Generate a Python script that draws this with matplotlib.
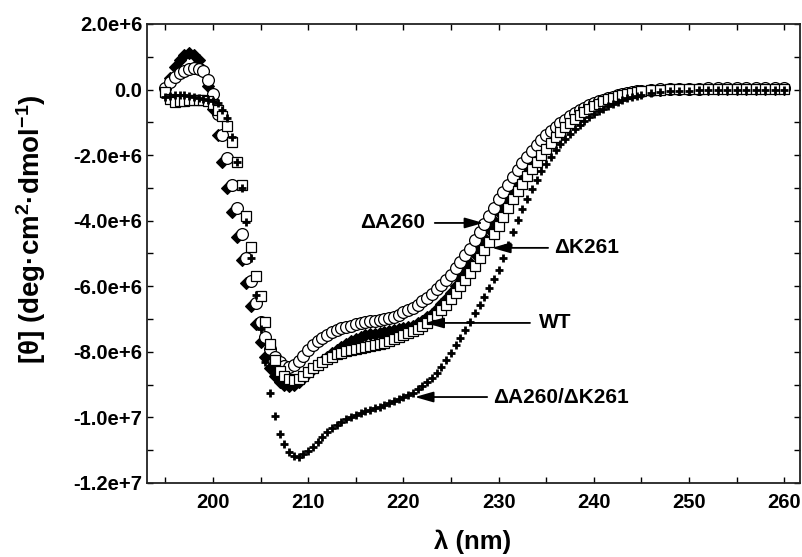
# CD spectra of WT and deletion mutants
import matplotlib
matplotlib.use("Agg")
import matplotlib.pyplot as plt
from matplotlib.ticker import MultipleLocator, FuncFormatter

plt.rcParams['font.family'] = ['Liberation Sans', 'DejaVu Sans']
plt.rcParams['font.weight'] = 'bold'
plt.rcParams['mathtext.fontset'] = 'custom'
plt.rcParams['mathtext.rm'] = 'Liberation Sans:bold'
plt.rcParams['mathtext.bf'] = 'Liberation Sans:bold'
plt.rcParams['mathtext.default'] = 'bf'

# wavelength (nm)
wavelength = [195, 195.5, 196, 196.5, 197, 197.5, 198, 198.5, 199, 199.5,
              200, 200.5, 201, 201.5, 202, 202.5, 203, 203.5, 204, 204.5,
              205, 205.5, 206, 206.5, 207, 207.5, 208, 208.5, 209, 209.5,
              210, 210.5, 211, 211.5, 212, 212.5, 213, 213.5, 214, 214.5,
              215, 215.5, 216, 216.5, 217, 217.5, 218, 218.5, 219, 219.5,
              220, 220.5, 221, 221.5, 222, 222.5, 223, 223.5, 224, 224.5,
              225, 225.5, 226, 226.5, 227, 227.5, 228, 228.5, 229, 229.5,
              230, 230.5, 231, 231.5, 232, 232.5, 233, 233.5, 234, 234.5,
              235, 235.5, 236, 236.5, 237, 237.5, 238, 238.5, 239, 239.5,
              240, 240.5, 241, 241.5, 242, 242.5, 243, 243.5, 244, 244.5,
              245, 246, 247, 248, 249, 250, 251, 252, 253, 254,
              255, 256, 257, 258, 259, 260]

# mean residue ellipticity, in units of 1e6 deg cm2 dmol-1
wt = [0.05, 0.35, 0.7, 0.9, 1.05, 1.1, 1.05, 0.9, 0.6, 0.1,
      -0.6, -1.4, -2.2, -3.0, -3.75, -4.5, -5.2, -5.9, -6.6, -7.15,
      -7.7, -8.15, -8.5, -8.75, -8.92, -9.0, -9.03, -9.0, -8.92, -8.8,
      -8.65, -8.52, -8.4, -8.27, -8.15, -8.05, -7.95, -7.85, -7.75, -7.67,
      -7.6, -7.55, -7.5, -7.47, -7.45, -7.42, -7.4, -7.37, -7.35, -7.32,
      -7.28, -7.24, -7.2, -7.13, -7.05, -6.95, -6.85, -6.7, -6.55, -6.38,
      -6.2, -5.98, -5.75, -5.52, -5.28, -5.03, -4.78, -4.52, -4.26, -4.0,
      -3.75, -3.5, -3.25, -3.02, -2.8, -2.57, -2.35, -2.15, -1.95, -1.77,
      -1.6, -1.45, -1.3, -1.17, -1.05, -0.93, -0.82, -0.72, -0.62, -0.54,
      -0.46, -0.39, -0.33, -0.28, -0.23, -0.19, -0.15, -0.12, -0.09, -0.07,
      -0.05, -0.02, 0.0, 0.01, 0.02, 0.02, 0.02, 0.03, 0.03, 0.03,
      0.03, 0.03, 0.03, 0.03, 0.03, 0.03]

d_a260 = [0.05, 0.24, 0.38, 0.5, 0.58, 0.62, 0.66, 0.64, 0.55, 0.3,
          -0.15, -0.75, -1.4, -2.1, -2.9, -3.6, -4.4, -5.15, -5.85, -6.5,
          -7.1, -7.55, -7.9, -8.15, -8.3, -8.42, -8.46, -8.4, -8.28, -8.12,
          -7.95, -7.8, -7.67, -7.57, -7.48, -7.4, -7.33, -7.28, -7.24, -7.2,
          -7.16, -7.13, -7.1, -7.07, -7.05, -7.03, -7.0, -6.97, -6.93, -6.87,
          -6.8, -6.73, -6.65, -6.56, -6.46, -6.35, -6.23, -6.1, -5.95, -5.8,
          -5.65, -5.45, -5.25, -5.05, -4.85, -4.6, -4.35, -4.1, -3.85, -3.6,
          -3.35, -3.12, -2.9, -2.67, -2.45, -2.25, -2.05, -1.87, -1.7, -1.55,
          -1.4, -1.27, -1.15, -1.03, -0.92, -0.82, -0.72, -0.63, -0.55, -0.48,
          -0.42, -0.36, -0.31, -0.26, -0.22, -0.18, -0.15, -0.12, -0.09, -0.06,
          -0.04, -0.01, 0.01, 0.02, 0.03, 0.03, 0.03, 0.04, 0.04, 0.04,
          0.04, 0.04, 0.04, 0.04, 0.04, 0.04]

d_k261 = [-0.07, -0.3, -0.38, -0.36, -0.34, -0.32, -0.32, -0.32, -0.33, -0.36,
          -0.45, -0.62, -0.8, -1.1, -1.6, -2.2, -2.9, -3.85, -4.8, -5.7,
          -6.3, -7.1, -7.75, -8.25, -8.58, -8.75, -8.82, -8.85, -8.82, -8.74,
          -8.62, -8.5, -8.4, -8.3, -8.22, -8.15, -8.08, -8.03, -7.98, -7.94,
          -7.9, -7.87, -7.85, -7.82, -7.8, -7.76, -7.72, -7.67, -7.62, -7.56,
          -7.5, -7.44, -7.38, -7.3, -7.22, -7.11, -7.0, -6.87, -6.72, -6.56,
          -6.38, -6.2, -6.0, -5.8, -5.6, -5.38, -5.15, -4.9, -4.65, -4.4,
          -4.15, -3.88, -3.6, -3.35, -3.1, -2.87, -2.65, -2.42, -2.2, -2.0,
          -1.8, -1.62, -1.45, -1.3, -1.15, -1.02, -0.9, -0.79, -0.68, -0.59,
          -0.5, -0.43, -0.36, -0.3, -0.25, -0.21, -0.17, -0.13, -0.1, -0.07,
          -0.05, -0.02, 0.0, 0.01, 0.02, 0.02, 0.02, 0.02, 0.03, 0.03,
          0.03, 0.03, 0.03, 0.03, 0.03, 0.03]

d_both = [-0.23, -0.2, -0.18, -0.17, -0.17, -0.2, -0.23, -0.26, -0.3, -0.32,
          -0.35, -0.4, -0.62, -0.87, -1.45, -2.2, -3.0, -4.04, -5.14, -6.27,
          -7.3, -8.3, -9.26, -9.96, -10.5, -10.82, -11.05, -11.18, -11.2, -11.12,
          -11.02, -10.9, -10.75, -10.6, -10.45, -10.33, -10.22, -10.13, -10.05, -9.98,
          -9.92, -9.87, -9.82, -9.77, -9.72, -9.67, -9.62, -9.56, -9.5, -9.44,
          -9.38, -9.32, -9.25, -9.15, -9.05, -8.93, -8.8, -8.65, -8.45, -8.25,
          -8.03, -7.8, -7.57, -7.33, -7.08, -6.83, -6.58, -6.32, -6.05, -5.78,
          -5.5, -5.15, -4.75, -4.35, -3.98, -3.65, -3.33, -3.03, -2.75, -2.5,
          -2.27, -2.05, -1.85, -1.67, -1.5, -1.35, -1.21, -1.08, -0.96, -0.85,
          -0.75, -0.66, -0.58, -0.5, -0.44, -0.38, -0.32, -0.27, -0.23, -0.19,
          -0.16, -0.11, -0.08, -0.06, -0.04, -0.03, -0.02, -0.01, 0.0, 0.0,
          0.0, 0.0, 0.0, 0.0, 0.0, 0.0]

scale = 1e6

fig = plt.figure(figsize=(8.02, 5.57), dpi=100)
ax = fig.add_axes([0.183, 0.133, 0.815, 0.824])

ax.plot(wavelength, [v * scale for v in wt], 'D', ms=6, mfc='black', mec='black',
        mew=0.8, zorder=2)
ax.plot(wavelength, [v * scale for v in d_a260], 'o', ms=8.5, mfc='white', mec='black',
        mew=0.9, zorder=3)
ax.plot(wavelength, [v * scale for v in d_k261], 's', ms=7.2, mfc='white', mec='black',
        mew=0.9, zorder=4)
ax.plot(wavelength, [v * scale for v in d_both], '+', ms=5.5, color='black',
        mew=2, zorder=5)

ax.set_xlim(193.05, 261.7)
ax.set_ylim(-1.2e7, 2e6)

ax.xaxis.set_major_locator(MultipleLocator(10))
ax.xaxis.set_minor_locator(MultipleLocator(5))
ax.yaxis.set_major_locator(MultipleLocator(2e6))
ax.yaxis.set_minor_locator(MultipleLocator(1e6))


def sci(v, pos):
    if abs(v) < 1:
        return "0.0"
    s = "%.1e" % v
    mant, ex = s.split("e")
    sign = ex[0]
    return "%se%s%d" % (mant, sign, int(ex[1:]))


ax.yaxis.set_major_formatter(FuncFormatter(sci))
ax.tick_params(which='both', direction='in', top=True, right=True,
               length=4, width=1, labelsize=14.5)
ax.tick_params(axis='x', pad=7)
ax.tick_params(axis='y', pad=3)

for sp in ax.spines.values():
    sp.set_linewidth(1.3)
    sp.set_color('#222222')

fig.text(473 / 802, 1 - 542 / 557, "λ (nm)", fontsize=18.5, fontweight='bold',
         ha='center', va='center')
fig.text(31 / 802, 1 - 229 / 557, "[θ] (deg·cm$^{2}$·dmol$^{-1}$)", fontsize=20,
         fontweight='bold', rotation=90, ha='center', va='center')

# annotations: (label, text position, arrow tail, arrow head)
labels = ["ΔA260", "ΔK261", "WT", "ΔA260/ΔK261"]
text_xy = [(218.9, -4.07e6), (239.3, -4.83e6), (236.0, -7.12e6), (236.6, -9.38e6)]
tail_xy = [(223.3, -4.07e6), (235.2, -4.83e6), (233.3, -7.12e6), (228.8, -9.38e6)]
head_xy = [(228.4, -4.07e6), (229.3, -4.83e6), (222.3, -7.12e6), (221.2, -9.38e6)]

for lab, t, a, h in zip(labels, text_xy, tail_xy, head_xy):
    ax.text(t[0], t[1], lab, fontsize=15, fontweight='bold', ha='center',
            va='center', zorder=7)
    ax.annotate('', xy=h, xytext=a,
                arrowprops=dict(arrowstyle='-|>,head_length=0.7,head_width=0.2',
                                color='black', lw=1.3, mutation_scale=16,
                                shrinkA=0, shrinkB=0),
                zorder=6)

fig.savefig("out.png", dpi=100)
